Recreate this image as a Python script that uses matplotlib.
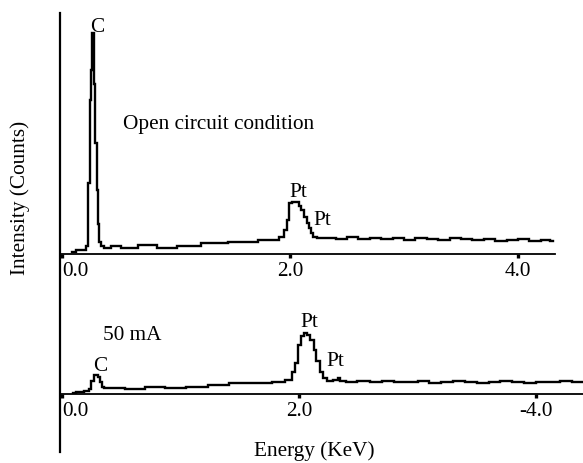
import matplotlib
matplotlib.use("Agg")
import matplotlib.pyplot as plt
from matplotlib.lines import Line2D

# ---------------- data ----------------
# top: open circuit condition
top_energy = [0.09, 0.16, 0.20, 0.22, 0.237, 0.248, 0.258, 0.268, 0.278, 0.288, 0.298,
              0.308, 0.318, 0.33, 0.35, 0.395, 0.465, 0.57, 0.64, 0.70, 0.82, 0.84, 0.965,
              1.05, 1.19, 1.25, 1.40, 1.52, 1.69, 1.75, 1.87, 1.93, 1.97, 1.98, 2.01,
              2.03, 2.06, 2.09, 2.11, 2.14, 2.16, 2.175, 2.19, 2.22, 2.26, 2.35, 2.45,
              2.55, 2.65, 2.75, 2.85, 2.95, 3.05, 3.15, 3.25, 3.35, 3.45, 3.55, 3.65,
              3.75, 3.85, 3.95, 4.05, 4.15, 4.25, 4.31]
top_counts = [2, 4, 4, 8, 71, 154, 184, 221, 221, 170, 111,
              64, 30, 12, 8, 6, 8, 6, 6, 9, 9, 6, 6,
              8, 8, 11, 11, 12, 12, 14, 14, 17, 24, 34, 51,
              52, 52, 48, 44, 37, 31, 26, 21, 17, 16, 16, 15,
              17, 15, 16, 15, 16, 14, 16, 15, 14, 16, 15, 14,
              15, 13, 14, 15, 13, 14, 13]

# bottom: 50 mA
bot_energy = [0.093, 0.15, 0.22, 0.236, 0.26, 0.28, 0.295, 0.312, 0.33, 0.346, 0.37,
              0.45, 0.62, 0.78, 0.95, 1.15, 1.32, 1.50, 1.70, 1.85, 1.92, 1.96,
              1.98, 2.01, 2.03, 2.06, 2.08, 2.11, 2.135, 2.16, 2.19, 2.22, 2.26,
              2.31, 2.34, 2.36, 2.43, 2.55, 2.65, 2.75, 2.85, 2.95, 3.05, 3.15,
              3.25, 3.35, 3.45, 3.55, 3.65, 3.75, 3.85, 3.95, 4.05, 4.15, 4.25,
              4.35, 4.40]
bot_counts = [1, 2, 3, 5, 13, 19, 19, 17, 12, 7, 6,
              6, 5, 7, 6, 7, 9, 11, 11, 12, 14, 22,
              31, 49, 58, 61, 59, 54, 44, 33, 22, 16, 13,
              14, 16, 13, 12, 13, 12, 13, 12, 12, 13, 11,
              12, 13, 12, 11, 12, 13, 12, 11, 12, 12, 13,
              12, 12]

top_ticks = [0.0, 2.0, 4.0]
top_ticklabels = ["0.0", "2.0", "4.0"]
bot_ticks = [0.0, 2.0, 4.0]
bot_ticklabels = ["0.0", "2.0", "-4.0"]

# ---------------- style ----------------
FS = 15.3
plt.rcParams.update({
    "font.family": ["Liberation Serif", "DejaVu Serif"],
    "font.size": FS,
})

W, H = 583, 463
fig = plt.figure(figsize=(W / 100, H / 100), dpi=100, facecolor="white")


def px_box(left, top, right, bottom):
    return [left / W, 1 - bottom / H, (right - left) / W, (bottom - top) / H]


def fx(x):
    return x / W


def fy(y):
    return 1 - y / H


ax_top = fig.add_axes(px_box(60, 20, 555, 254))
ax_bot = fig.add_axes(px_box(60, 300, 583, 394))

for ax, e, c, ticks, labels, xlim, ylim in [
    (ax_top, top_energy, top_counts, top_ticks, top_ticklabels, (-2 / 114, 493 / 114), (0, 234)),
    (ax_bot, bot_energy, bot_counts, bot_ticks, bot_ticklabels, (-2 / 118.5, 521 / 118.5), (0, 94)),
]:
    ax.plot(e, c, color="black", lw=1.7, drawstyle="steps-mid", solid_joinstyle="miter")
    ax.set_xlim(*xlim)
    ax.set_ylim(*ylim)
    ax.set_facecolor("none")
    for s in ["left", "top", "right"]:
        ax.spines[s].set_visible(False)
    ax.spines["bottom"].set_linewidth(1.3)
    ax.set_yticks([])
    ax.set_xticks(ticks)
    ax.set_xticklabels(labels)
    ax.tick_params(axis="x", direction="out", length=3, width=2.4, pad=3,
                   labelsize=FS, color="black")
    ax.get_xticklabels()[0].set_ha("left")

# shared vertical axis line
fig.add_artist(Line2D([fx(60), fx(60)], [fy(452), fy(13)], color="black", lw=1.6))

# annotations
fig.text(fx(97), fy(32), "C", ha="center", va="baseline")
fig.text(fx(123), fy(129), "Open circuit condition", ha="left", va="baseline")
fig.text(fx(298), fy(197), "Pt", ha="center", va="baseline")
fig.text(fx(322), fy(225), "Pt", ha="center", va="baseline")

fig.text(fx(103), fy(340), "50 mA", ha="left", va="baseline")
fig.text(fx(100), fy(371), "C", ha="center", va="baseline")
fig.text(fx(309), fy(327), "Pt", ha="center", va="baseline")
fig.text(fx(335), fy(366), "Pt", ha="center", va="baseline")

fig.text(fx(314), fy(456), "Energy (KeV)", ha="center", va="baseline")
fig.text(fx(20), fy(198), "Intensity (Counts)", ha="center", va="center", rotation=90)

fig.savefig("out.png", dpi=100, facecolor="white")
